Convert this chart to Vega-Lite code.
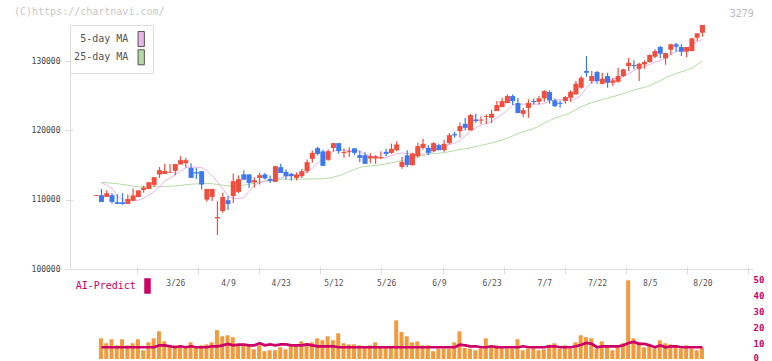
{
  "$schema": "https://vega.github.io/schema/vega-lite/v6.json",
  "background": "white",
  "padding": {"left": 14, "top": 7, "right": 0, "bottom": 0},
  "title": {"text": "3279", "anchor": "end", "offset": -12, "dx": -10, "fontSize": 10, "font": "DejaVu Sans Mono", "fontWeight": "normal", "color": "#bbbbbb"},
  "config": {
    "view": {"stroke": null},
    "font": "DejaVu Sans Mono",
    "axis": {"labelFont": "DejaVu Sans Mono", "labelFontSize": 8, "domainColor": "#dddddd", "tickColor": "#dddddd", "grid": false, "labelFlush": false}
  },
  "datasets": {"d": [
    {"i":0,"o":110530,"h":110646,"l":110530,"c":110646,"a":null,"b":null,"v":null,"p":null},
    {"i":1,"o":110646,"h":111556,"l":109678,"c":109678,"a":112422,"b":112494,"v":13.0,"p":7.4},
    {"i":2,"o":110400,"h":111368,"l":110400,"c":110935,"a":112090,"b":112451,"v":9.9,"p":7.4},
    {"i":3,"o":110646,"h":110935,"l":109447,"c":109678,"a":111657,"b":112379,"v":12.4,"p":7.4},
    {"i":4,"o":109635,"h":110790,"l":109389,"c":109389,"a":110501,"b":112306,"v":8.6,"p":7.4},
    {"i":5,"o":109635,"h":110935,"l":109273,"c":109389,"a":109996,"b":112191,"v":12.4,"p":7.4},
    {"i":6,"o":109389,"h":110747,"l":109389,"c":110097,"a":109880,"b":112090,"v":8.6,"p":7.4},
    {"i":7,"o":109851,"h":111628,"l":109779,"c":110617,"a":109880,"b":111946,"v":9.9,"p":7.4},
    {"i":8,"o":110386,"h":111339,"l":110357,"c":111339,"a":109923,"b":111873,"v":12.4,"p":7.4},
    {"i":9,"o":111411,"h":112018,"l":111006,"c":111758,"a":110212,"b":111845,"v":5.5,"p":7.4},
    {"i":10,"o":111541,"h":112523,"l":111512,"c":112523,"a":110646,"b":111845,"v":10.5,"p":7.4},
    {"i":11,"o":112133,"h":113246,"l":111830,"c":113246,"a":111151,"b":111873,"v":13.0,"p":7.4},
    {"i":12,"o":113636,"h":114719,"l":113144,"c":114257,"a":111801,"b":111873,"v":17.4,"p":8.6},
    {"i":13,"o":113708,"h":115167,"l":113708,"c":114156,"a":112740,"b":111902,"v":11.1,"p":8.6},
    {"i":14,"o":113895,"h":115152,"l":113867,"c":114011,"a":113101,"b":111946,"v":8.6,"p":8.0},
    {"i":15,"o":114156,"h":115152,"l":113534,"c":115152,"a":113607,"b":111989,"v":8.6,"p":7.4},
    {"i":16,"o":115080,"h":116279,"l":115080,"c":115701,"a":114112,"b":112046,"v":8.6,"p":8.0},
    {"i":17,"o":115268,"h":116019,"l":114647,"c":115701,"a":114618,"b":112162,"v":8.0,"p":7.4},
    {"i":18,"o":114589,"h":115239,"l":113144,"c":113144,"a":114733,"b":112234,"v":10.5,"p":8.0},
    {"i":19,"o":113968,"h":114589,"l":113000,"c":113780,"a":114690,"b":112278,"v":7.4,"p":7.4},
    {"i":20,"o":114112,"h":114112,"l":111469,"c":112191,"a":114618,"b":112306,"v":8.6,"p":7.4},
    {"i":21,"o":109996,"h":111556,"l":109707,"c":111556,"a":114184,"b":112336,"v":9.2,"p":7.4},
    {"i":22,"o":110400,"h":111556,"l":109822,"c":111556,"a":113462,"b":112306,"v":10.5,"p":8.0},
    {"i":23,"o":107309,"h":109779,"l":104911,"c":107497,"a":112596,"b":112191,"v":18.1,"p":8.0},
    {"i":24,"o":108363,"h":111006,"l":108118,"c":110386,"a":111512,"b":112090,"v":14.3,"p":8.6},
    {"i":25,"o":109923,"h":110530,"l":108551,"c":109389,"a":110573,"b":111989,"v":14.9,"p":9.5},
    {"i":26,"o":110530,"h":113794,"l":109533,"c":112668,"a":110183,"b":111946,"v":13.7,"p":8.6},
    {"i":27,"o":111122,"h":113506,"l":110935,"c":112957,"a":110183,"b":111974,"v":8.6,"p":9.0},
    {"i":28,"o":113650,"h":114257,"l":112884,"c":112884,"a":110285,"b":112090,"v":9.2,"p":9.0},
    {"i":29,"o":113650,"h":113650,"l":111700,"c":112422,"a":111223,"b":112234,"v":8.6,"p":8.6},
    {"i":30,"o":112495,"h":113246,"l":111758,"c":112812,"a":112090,"b":112379,"v":6.1,"p":8.6},
    {"i":31,"o":113144,"h":113867,"l":112191,"c":113534,"a":112451,"b":112552,"v":8.6,"p":9.9},
    {"i":32,"o":113636,"h":113867,"l":112913,"c":113072,"a":112625,"b":112696,"v":4.9,"p":8.6},
    {"i":33,"o":112985,"h":113491,"l":112422,"c":112711,"a":112740,"b":112812,"v":5.5,"p":9.2},
    {"i":34,"o":112567,"h":114834,"l":112567,"c":114834,"a":112884,"b":112884,"v":5.5,"p":8.6},
    {"i":35,"o":114690,"h":115167,"l":113852,"c":113852,"a":113101,"b":112957,"v":7.4,"p":9.2},
    {"i":36,"o":114011,"h":114358,"l":112913,"c":113390,"a":113390,"b":112957,"v":6.1,"p":9.2},
    {"i":37,"o":113722,"h":113867,"l":112769,"c":113390,"a":113534,"b":112957,"v":8.6,"p":8.6},
    {"i":38,"o":113144,"h":113939,"l":112769,"c":113607,"a":113607,"b":112957,"v":8.6,"p":8.6},
    {"i":39,"o":113390,"h":114430,"l":113130,"c":114112,"a":113679,"b":112971,"v":11.1,"p":8.6},
    {"i":40,"o":114112,"h":115802,"l":113867,"c":115412,"a":113968,"b":112985,"v":9.9,"p":9.2},
    {"i":41,"o":115889,"h":117102,"l":115311,"c":116755,"a":114546,"b":113000,"v":10.5,"p":8.6},
    {"i":42,"o":117434,"h":117651,"l":116380,"c":116611,"a":115268,"b":113000,"v":13.0,"p":8.0},
    {"i":43,"o":116958,"h":117218,"l":114878,"c":114878,"a":115990,"b":113029,"v":11.8,"p":8.0},
    {"i":44,"o":115744,"h":117247,"l":115629,"c":117001,"a":116423,"b":113101,"v":14.3,"p":8.0},
    {"i":45,"o":117463,"h":118157,"l":116929,"c":118157,"a":117001,"b":113246,"v":11.8,"p":8.0},
    {"i":46,"o":118157,"h":118157,"l":116640,"c":117001,"a":117218,"b":113462,"v":16.2,"p":7.4},
    {"i":47,"o":116741,"h":117391,"l":116033,"c":116885,"a":117145,"b":113708,"v":9.9,"p":7.4},
    {"i":48,"o":116857,"h":117579,"l":116178,"c":117001,"a":117073,"b":114040,"v":9.2,"p":7.4},
    {"i":49,"o":117405,"h":117405,"l":116423,"c":116755,"a":117102,"b":114358,"v":9.2,"p":7.4},
    {"i":50,"o":116423,"h":117044,"l":115412,"c":116033,"a":117001,"b":114647,"v":8.6,"p":7.4},
    {"i":51,"o":116423,"h":116857,"l":115167,"c":115167,"a":116568,"b":114806,"v":8.0,"p":7.4},
    {"i":52,"o":115947,"h":116712,"l":115268,"c":116279,"a":116279,"b":114878,"v":8.6,"p":7.4},
    {"i":53,"o":115947,"h":116423,"l":115167,"c":116279,"a":116062,"b":114936,"v":10.5,"p":7.4},
    {"i":54,"o":115947,"h":117001,"l":115947,"c":116134,"a":115990,"b":115051,"v":8.0,"p":7.4},
    {"i":55,"o":116900,"h":117333,"l":116279,"c":116611,"a":116134,"b":115167,"v":8.0,"p":7.4},
    {"i":56,"o":116741,"h":118084,"l":116611,"c":117333,"a":116351,"b":115311,"v":7.4,"p":7.4},
    {"i":57,"o":117145,"h":118445,"l":117001,"c":117969,"a":116611,"b":115484,"v":24.3,"p":7.4},
    {"i":58,"o":114733,"h":116178,"l":114473,"c":115456,"a":116755,"b":115629,"v":17.0,"p":7.4},
    {"i":59,"o":116394,"h":117116,"l":114719,"c":115008,"a":116640,"b":115802,"v":14.3,"p":7.4},
    {"i":60,"o":114979,"h":116755,"l":114936,"c":116669,"a":116524,"b":115990,"v":10.5,"p":7.4},
    {"i":61,"o":116279,"h":118200,"l":116033,"c":117723,"a":116524,"b":116207,"v":11.1,"p":7.4},
    {"i":62,"o":117478,"h":118778,"l":117247,"c":118055,"a":116568,"b":116380,"v":8.6,"p":7.4},
    {"i":63,"o":117478,"h":117868,"l":116423,"c":116755,"a":116640,"b":116524,"v":8.6,"p":7.4},
    {"i":64,"o":117001,"h":118301,"l":116857,"c":118157,"a":116929,"b":116640,"v":4.9,"p":7.4},
    {"i":65,"o":117868,"h":118055,"l":117145,"c":117145,"a":117290,"b":116712,"v":6.5,"p":7.4},
    {"i":66,"o":117145,"h":118662,"l":116929,"c":118055,"a":117579,"b":116784,"v":6.5,"p":7.4},
    {"i":67,"o":118157,"h":119601,"l":117969,"c":119312,"a":117969,"b":116929,"v":6.5,"p":7.4},
    {"i":68,"o":119456,"h":119818,"l":118922,"c":119269,"a":118157,"b":117073,"v":10.5,"p":7.4},
    {"i":69,"o":119890,"h":121146,"l":118922,"c":120612,"a":118518,"b":117247,"v":17.4,"p":9.0},
    {"i":70,"o":120944,"h":121811,"l":119991,"c":120366,"a":119240,"b":117362,"v":7.0,"p":8.6},
    {"i":71,"o":119991,"h":122345,"l":119991,"c":122201,"a":119890,"b":117478,"v":6.5,"p":8.0},
    {"i":72,"o":121580,"h":122389,"l":121089,"c":121334,"a":120366,"b":117651,"v":5.5,"p":8.0},
    {"i":73,"o":121406,"h":121984,"l":120930,"c":121551,"a":120756,"b":117825,"v":6.5,"p":7.4},
    {"i":74,"o":121912,"h":122302,"l":120901,"c":122056,"a":120973,"b":118012,"v":13.0,"p":7.4},
    {"i":75,"o":121811,"h":122966,"l":121045,"c":122389,"a":121334,"b":118186,"v":8.0,"p":8.0},
    {"i":76,"o":122779,"h":124223,"l":122779,"c":123645,"a":121840,"b":118373,"v":8.6,"p":7.4},
    {"i":77,"o":123356,"h":124700,"l":123356,"c":124223,"a":122302,"b":118590,"v":8.0,"p":7.4},
    {"i":78,"o":123934,"h":125191,"l":123934,"c":124945,"a":122923,"b":118879,"v":6.5,"p":7.4},
    {"i":79,"o":124945,"h":125191,"l":123645,"c":124223,"a":123645,"b":119196,"v":6.5,"p":7.4},
    {"i":80,"o":123934,"h":124700,"l":122490,"c":122490,"a":123790,"b":119529,"v":12.4,"p":7.4},
    {"i":81,"o":122389,"h":123255,"l":121912,"c":122923,"a":123790,"b":119774,"v":5.5,"p":8.0},
    {"i":82,"o":123255,"h":124469,"l":121811,"c":123934,"a":123790,"b":120034,"v":6.5,"p":7.4},
    {"i":83,"o":124223,"h":124613,"l":123746,"c":124079,"a":123790,"b":120251,"v":7.4,"p":7.4},
    {"i":84,"o":124122,"h":124945,"l":123746,"c":124613,"a":123790,"b":120612,"v":5.5,"p":7.4},
    {"i":85,"o":124613,"h":125769,"l":124122,"c":125667,"a":123862,"b":121045,"v":6.1,"p":7.4},
    {"i":86,"o":125523,"h":125769,"l":123833,"c":124324,"a":124223,"b":121406,"v":9.0,"p":8.0},
    {"i":87,"o":124324,"h":124613,"l":123356,"c":123501,"a":124367,"b":121768,"v":9.9,"p":8.0},
    {"i":88,"o":123977,"h":124324,"l":123255,"c":123833,"a":124440,"b":122013,"v":6.5,"p":7.4},
    {"i":89,"o":124223,"h":124945,"l":123833,"c":124801,"a":124440,"b":122273,"v":8.6,"p":7.4},
    {"i":90,"o":124700,"h":125769,"l":124079,"c":125566,"a":124367,"b":122562,"v":6.5,"p":7.4},
    {"i":91,"o":125191,"h":127112,"l":125191,"c":126722,"a":124584,"b":122995,"v":10.5,"p":8.0},
    {"i":92,"o":126144,"h":127834,"l":126000,"c":127589,"a":125090,"b":123429,"v":14.9,"p":9.0},
    {"i":93,"o":128556,"h":130723,"l":127733,"c":128311,"a":126173,"b":123717,"v":13.7,"p":10.1},
    {"i":94,"o":127112,"h":128556,"l":126722,"c":127834,"a":126895,"b":124006,"v":13.0,"p":9.5},
    {"i":95,"o":128412,"h":128556,"l":126722,"c":127112,"a":127213,"b":124223,"v":6.5,"p":7.4},
    {"i":96,"o":126722,"h":128311,"l":126635,"c":127444,"a":127256,"b":124440,"v":11.1,"p":8.0},
    {"i":97,"o":127834,"h":128311,"l":126144,"c":126866,"a":127300,"b":124656,"v":8.6,"p":8.0},
    {"i":98,"o":126866,"h":127589,"l":126390,"c":127213,"a":127401,"b":124873,"v":5.5,"p":8.0},
    {"i":99,"o":127011,"h":129033,"l":126866,"c":127834,"a":127545,"b":125046,"v":8.6,"p":8.0},
    {"i":100,"o":127834,"h":128888,"l":127690,"c":128802,"a":127762,"b":125306,"v":9.9,"p":8.6},
    {"i":101,"o":129278,"h":130477,"l":128556,"c":129755,"a":128195,"b":125595,"v":49.5,"p":10.1},
    {"i":102,"o":129423,"h":130102,"l":128802,"c":129278,"a":128628,"b":125812,"v":13.0,"p":10.7},
    {"i":103,"o":128888,"h":129755,"l":127112,"c":129611,"a":128917,"b":126028,"v":10.5,"p":9.5},
    {"i":104,"o":129524,"h":130102,"l":128888,"c":129856,"a":129206,"b":126202,"v":7.4,"p":9.5},
    {"i":105,"o":129856,"h":130968,"l":129755,"c":130867,"a":129495,"b":126462,"v":8.0,"p":8.6},
    {"i":106,"o":130622,"h":131690,"l":130391,"c":131445,"a":129856,"b":126823,"v":6.5,"p":7.4},
    {"i":107,"o":132023,"h":132167,"l":130391,"c":131055,"a":130073,"b":127155,"v":11.8,"p":8.6},
    {"i":108,"o":130391,"h":131199,"l":129466,"c":131156,"a":130434,"b":127617,"v":9.9,"p":7.4},
    {"i":109,"o":131633,"h":132499,"l":130867,"c":132413,"a":130939,"b":127906,"v":9.2,"p":8.0},
    {"i":110,"o":132413,"h":132644,"l":131344,"c":132066,"a":131373,"b":128195,"v":8.6,"p":8.0},
    {"i":111,"o":132023,"h":132413,"l":130723,"c":131344,"a":131517,"b":128441,"v":6.5,"p":7.4},
    {"i":112,"o":131344,"h":132023,"l":130578,"c":132023,"a":131806,"b":128701,"v":8.6,"p":7.4},
    {"i":113,"o":131445,"h":133366,"l":131445,"c":133279,"a":132384,"b":128990,"v":6.5,"p":7.4},
    {"i":114,"o":133366,"h":134002,"l":132889,"c":134002,"a":132817,"b":129495,"v":5.5,"p":7.4},
    {"i":115,"o":134088,"h":135200,"l":133510,"c":135200,"a":133135,"b":130001,"v":7.4,"p":7.4}
  ]},
  "bounds": "flush",
  "spacing": 0,
  "resolve": {"scale": {"x": "independent", "y": "independent", "fill": "independent"}, "legend": {"fill": "independent"}},
  "vconcat": [
    {
      "width": 683,
      "height": 244,
      "title": {"text": "(C)https://chartnavi.com/", "anchor": "start", "frame": "group", "dx": -56, "offset": 7, "fontSize": 10, "fontWeight": "normal", "color": "#c8c8c8", "font": "DejaVu Sans Mono"},
      "data": {"name": "d"},
      "resolve": {"axis": {"x": "independent", "y": "independent"}},
      "layer": [
        {
          "mark": {"type": "line", "color": "#b5dba5", "strokeWidth": 1},
          "encoding": {
            "x": {"field": "i", "type": "quantitative", "scale": {"domain": [-4.02, 123.64], "nice": false, "zero": false},
                  "axis": {"orient": "bottom", "values": [7.7, 19.3, 30.9, 42.5, 54.1, 65.7, 77.3, 88.9, 100.5, 112.1, 123.6], "labels": false, "ticks": true, "tickSize": 5, "domain": true, "title": null}},
            "y": {"field": "b", "type": "quantitative", "scale": {"domain": [100000, 135200], "nice": false, "zero": false},
                  "axis": {"orient": "left", "values": [100000, 110000, 120000, 130000], "format": "d", "tickSize": 5, "labelPadding": 5, "labelColor": "#444444", "labelFontSize": 8, "title": null}}
          }
        },
        {
          "mark": {"type": "line", "color": "#e9b5ea", "strokeWidth": 1},
          "encoding": {
            "x": {"field": "i", "type": "quantitative",
                  "axis": {"orient": "bottom", "values": [15, 25, 35, 45, 55, 65, 75, 85, 95, 105, 115], "labelExpr": "['3/26','4/9','4/23','5/12','5/26','6/9','6/23','7/7','7/22','8/5','8/20'][round((datum.value-15)/10)]", "ticks": false, "domain": false, "labelPadding": 10, "labelColor": "#555555", "labelFontSize": 8, "title": null}},
            "y": {"field": "a", "type": "quantitative",
                  "axis": {"orient": "left", "values": [100000, 110000, 120000, 130000], "labels": false, "tickSize": -3, "domain": false, "title": null}}
          }
        },
        {
          "mark": {"type": "rule", "strokeWidth": 1.2},
          "encoding": {
            "x": {"field": "i", "type": "quantitative",
                  "axis": {"orient": "bottom", "values": [7.7, 19.3, 30.9, 42.5, 54.1, 65.7, 77.3, 88.9, 100.5, 112.1, 123.6], "labels": false, "tickSize": -3, "domain": false, "title": null}},
            "y": {"field": "l", "type": "quantitative", "axis": null},
            "y2": {"field": "h"},
            "color": {"condition": {"test": "datum.c >= datum.o", "value": "#f04e3e"}, "value": "#3c78f0"}
          }
        },
        {
          "mark": {"type": "bar", "size": 5},
          "encoding": {
            "x": {"field": "i", "type": "quantitative", "axis": null},
            "y": {"field": "o", "type": "quantitative", "axis": null},
            "y2": {"field": "c"},
            "color": {"condition": {"test": "datum.c >= datum.o", "value": "#f04e3e"}, "value": "#3c78f0"}
          }
        },
        {
          "transform": [{"filter": "false"}],
          "mark": {"type": "square", "opacity": 1},
          "encoding": {
            "fill": {"field": "s", "type": "nominal",
              "scale": {"domain": ["5-day MA", "25-day MA"], "range": ["#e9b5ea", "#b5dba5"]},
              "legend": {"title": null, "orient": "none", "legendX": 0, "legendY": 0, "direction": "vertical",
                "symbolType": "M-0.42,-1H0.42V1H-0.42Z", "symbolSize": 225, "symbolStrokeColor": "#555555", "symbolStrokeWidth": 1,
                "symbolOffset": 57.2,
                "labelAlign": "right", "labelOffset": -20.9, "labelFontSize": 10, "labelColor": "#555555", "labelFont": "DejaVu Sans Mono",
                "fillColor": "white", "strokeColor": "#dddddd", "padding": 6, "rowPadding": -1.7, "labelLimit": 300}
            }
          }
        }
      ]
    },
    {
      "width": 683,
      "height": 90,
      "data": {"name": "d"},
      "resolve": {"axis": {"x": "independent", "y": "independent"}},
      "layer": [
        {
          "mark": {"type": "bar", "size": 4, "xOffset": -0.5, "color": "#f39a3e"},
          "encoding": {
            "x": {"field": "i", "type": "quantitative", "scale": {"domain": [-4.02, 123.64], "nice": false, "zero": false}, "axis": null},
            "y": {"field": "v", "type": "quantitative", "scale": {"domain": [0, 56.6], "nice": false},
                  "axis": {"orient": "right", "values": [0, 10, 20, 30, 40, 50], "domain": false, "ticks": false, "labelPadding": 0, "labelColor": "#cc0066", "labelFontSize": 9, "labelFontWeight": "bold", "title": null,
                           "labelOffset": {"condition": {"test": "datum.value == 0", "value": -2}, "value": 0}}}
          }
        },
        {
          "mark": {"type": "line", "color": "#cc0066", "strokeWidth": 2.7},
          "encoding": {
            "x": {"field": "i", "type": "quantitative", "axis": null},
            "y": {"field": "p", "type": "quantitative", "axis": null}
          }
        },
        {
          "transform": [{"filter": "false"}],
          "mark": {"type": "square", "opacity": 1},
          "encoding": {
            "fill": {"field": "s", "type": "nominal",
              "scale": {"domain": ["AI-Predict"], "range": ["#cc0066"]},
              "legend": {"title": null, "orient": "none", "legendX": 0, "legendY": 9, "direction": "vertical",
                "symbolType": "M-0.42,-1H0.42V1H-0.42Z", "symbolSize": 240, "symbolStrokeWidth": 0,
                "symbolOffset": 69.5,
                "labelAlign": "right", "labelOffset": -19.6, "labelFontSize": 10, "labelColor": "#cc0066", "labelFont": "DejaVu Sans Mono",
                "padding": 0, "labelLimit": 300}
            }
          }
        }
      ]
    }
  ]
}
